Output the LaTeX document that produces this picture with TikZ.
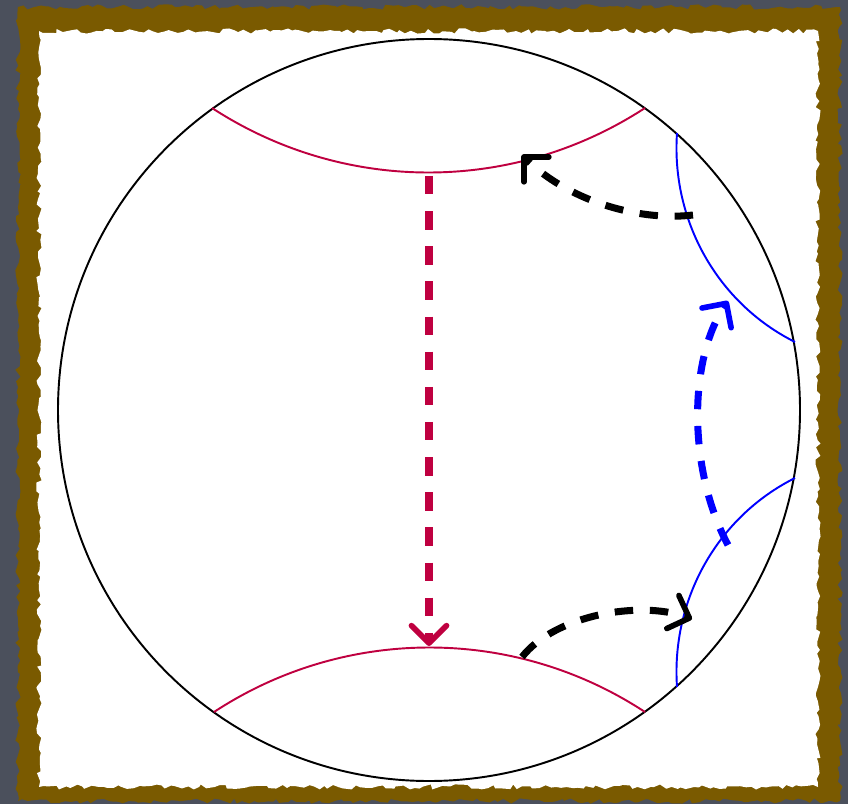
\documentclass[tikz,border=0pt]{standalone}
\usetikzlibrary{arrows.meta,decorations.pathmorphing}
\definecolor{slate}{RGB}{75,80,92}
\definecolor{framebrown}{RGB}{122,90,0}
\definecolor{geored}{RGB}{191,0,64}
\tikzset{
  geodesic/.style={line width=1.1pt},
  flow/.style={line width=4pt, dash pattern=on 10.5pt off 9.5pt,
    -{Straight Barb[length=10pt,width=20pt,line width=3.2pt,round]}},
  rough/.style={decorate, decoration={random steps, segment length=3pt, amplitude=1.5pt}},
}
\begin{document}
\begin{tikzpicture}[x=0.02cm,y=-0.02cm]
        \useasboundingbox (0,0) rectangle (848,804);
        % frame
        \fill[slate] (0,0) rectangle (848,804);
        \fill[framebrown, rough] (18,7) rectangle (840,801);
        \fill[white, rough] (39,31) rectangle (818,787);
        % disk
        \coordinate (o) at (429,410);
        \draw[line width=1.1pt] (o) circle[radius=371];
        % ends of the geodesics
        \coordinate (rt1) at (212,108);\coordinate (rt2) at (645,108);
        \coordinate (rb1) at (214,712);\coordinate (rb2) at (645,712);
        \coordinate (bt1) at (677,133);\coordinate (bt2) at (795,342);
        \coordinate (bb1) at (677,687);\coordinate (bb2) at (795,478);
        % geodesics
        \draw[geodesic, geored] (rt1) .. controls (344,194) and (513,194) .. (rt2);
        \draw[geodesic, geored] (rb1) .. controls (345,626) and (514,626) .. (rb2);
        \draw[geodesic, blue] (bt1) .. controls (671,220) and (717,303) .. (bt2);
        \draw[geodesic, blue] (bb1) .. controls (671,600) and (717,517) .. (bb2);
        % points on the geodesics
        \coordinate (rtop) at (429,176);\coordinate (rbot) at (429,646);
        \coordinate (btop) at (693,215);\coordinate (rtip) at (522,155);
        \coordinate (rfoot) at (522,657);\coordinate (bfoot) at (692,619);
        \coordinate (blow) at (728,545);\coordinate (bhigh) at (728,301);
        % arrows
        \draw[flow, geored] (rtop) -- (rbot);
        \draw[flow, black] (btop) .. controls (635,222) and (565,198) .. (rtip);
        \draw[flow, black] (rfoot) .. controls (555,615) and (640,600) .. (bfoot);
        \draw[flow, blue] (blow) .. controls (688,470) and (688,360) .. (bhigh);
    \end{tikzpicture}
\end{document}
